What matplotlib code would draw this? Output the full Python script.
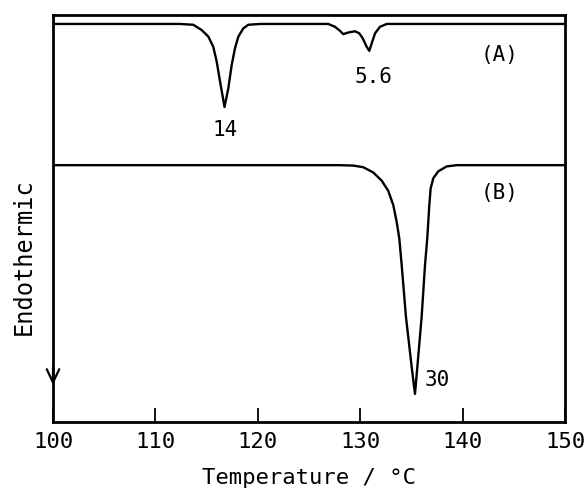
import numpy as np
import matplotlib.pyplot as plt

plt.rcParams['font.family'] = ['DejaVu Sans Mono', 'DejaVu Sans']

# DSC trace (A): temperature / degC and signal (arbitrary units)
temp_a = [100.0, 112.4, 113.7, 114.52, 115.17, 115.65, 115.99, 116.31, 116.75,
          117.12, 117.45, 117.77, 118.1, 118.58, 119.07, 120.2,
          126.88, 127.54, 128.03, 128.35, 128.84, 129.49, 129.91, 130.24,
          130.63, 130.89, 131.12, 131.45, 131.93, 132.59, 150.0]
sig_a = [97.8, 97.8, 97.6, 96.3, 94.7, 92.2, 88.5, 83.7, 77.4,
         82.0, 87.7, 91.8, 94.7, 96.7, 97.6, 97.8,
         97.8, 97.1, 96.1, 95.3, 95.7, 96.0, 95.5, 94.3,
         92.2, 91.2, 93.0, 95.5, 97.1, 97.8, 97.8]

# DSC trace (B)
temp_b = [100.0, 128.0, 129.33, 130.3, 131.28, 132.1, 132.74, 133.23, 133.56,
          133.82, 134.05, 134.47, 135.03, 135.35, 135.58, 136.0, 136.33,
          136.55, 136.75, 136.88, 137.14, 137.63, 138.45, 139.42, 150.0]
sig_b = [63.1, 63.1, 63.0, 62.6, 61.3, 59.3, 56.8, 53.3, 49.2,
         45.1, 38.6, 25.8, 13.5, 6.9, 13.5, 25.8, 38.6,
         45.1, 53.3, 57.4, 59.9, 61.6, 62.8, 63.1, 63.1]

# peak labels (enthalpy values)
peak_labels = ["14", "5.6", "30"]
peak_pos = [(116.8, 71.7), (131.3, 84.8), (136.3, 10.3)]
curve_names = ["(A)", "(B)"]
name_pos = [(143.6, 90.2), (143.6, 56.3)]

xticks = [100, 110, 120, 130, 140, 150]

fig = plt.figure(figsize=(5.87, 4.95), dpi=100)
ax = fig.add_axes([0.0903, 0.1475, 0.8722, 0.8222])

ax.plot(temp_a, sig_a, color='black', lw=1.7, solid_joinstyle='round',
        solid_capstyle='round')
ax.plot(temp_b, sig_b, color='black', lw=1.7, solid_joinstyle='round',
        solid_capstyle='round')

ax.set_xlim(100, 150)
ax.set_ylim(0, 100)

for spine in ax.spines.values():
    spine.set_linewidth(2.0)

ax.set_xticks(xticks)
ax.tick_params(axis='x', direction='in', length=10, width=1.3, pad=7,
               labelsize=16)
ax.set_yticks([])

ha = ['center', 'center', 'left']
for lab, (x, y), h in zip(peak_labels, peak_pos, ha):
    ax.text(x, y, lab, ha=h, va='center', fontsize=15)
for lab, (x, y) in zip(curve_names, name_pos):
    ax.text(x, y, lab, ha='center', va='center', fontsize=15)

# endothermic direction arrow on the left spine
ax.annotate('', xy=(100, 8.4), xytext=(100, 14),
            arrowprops=dict(arrowstyle='->, head_length=0.95, head_width=0.45',
                            color='black', lw=1.6),
            annotation_clip=False)

ax.set_xlabel('Temperature / °C', fontsize=16, labelpad=12)
fig.text(0.04, 0.482, 'Endothermic', rotation=90, ha='center', va='center',
         fontsize=17)

fig.savefig('out.png', dpi=100)
